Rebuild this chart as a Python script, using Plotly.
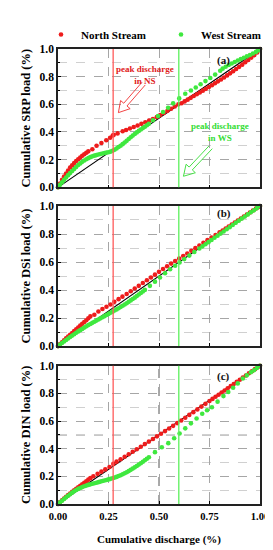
import plotly.graph_objects as go
from plotly.subplots import make_subplots

# ---------------- data ----------------
# Panel (a) SRP
ns_srp_x = [0.00,0.01,0.02,0.03,0.04,0.05,0.06,0.07,0.08,0.09,0.10,0.11,0.12,0.13,0.14,0.15,
            0.17,0.191,0.215,0.239,0.258,0.271,0.276,0.295,0.32,
            0.337,0.356,0.375,0.394,0.413,0.432,0.451,0.47,0.489,0.506,0.524,0.542,0.56,0.578,0.596,
            0.612,0.627,0.642,0.657,0.672,0.687,0.702,0.717,0.732,0.747,0.762,0.777,0.792,0.807,
            0.822,0.837,0.852,0.867,0.882,0.897,0.912,0.927,0.942,0.957,0.972,0.986,1.0]
ns_srp_y = [0.000,0.028,0.054,0.078,0.100,0.122,0.143,0.160,0.175,0.190,0.203,0.216,0.228,0.239,0.250,0.260,
            0.275,0.300,0.320,0.340,0.358,0.375,0.380,0.390,0.405,
            0.414,0.425,0.436,0.447,0.459,0.470,0.482,0.494,0.508,0.522,0.537,0.553,0.568,0.584,0.600,
            0.608,0.621,0.634,0.647,0.660,0.673,0.686,0.699,0.712,0.725,0.738,0.752,0.766,0.780,
            0.794,0.809,0.824,0.839,0.855,0.871,0.887,0.904,0.921,0.938,0.956,0.975,1.000]
ws_srp_x = [0.00,0.01,0.02,0.03,0.04,0.05,0.06,0.07,0.08,0.09,0.10,0.11,0.12,0.13,0.14,0.15,
            0.16,0.17,0.18,0.19,0.20,0.21,0.22,0.23,0.24,0.25,0.26,0.27,0.28,0.29,0.30,
            0.31,0.32,0.33,0.34,0.35,0.36,0.37,0.38,0.39,0.40,0.41,0.42,0.43,0.44,0.45,
            0.47,0.495,0.52,0.545,0.57,0.60,0.63,0.658,0.682,0.706,0.73,0.754,0.778,0.803,
            0.815,0.83,0.845,0.86,0.875,0.89,0.905,0.92,0.935,0.95,0.965,0.98,0.99,1.0]
ws_srp_y = [0.000,0.018,0.036,0.054,0.071,0.088,0.104,0.118,0.132,0.147,0.161,0.173,0.184,0.194,0.203,0.211,
            0.218,0.224,0.229,0.233,0.237,0.241,0.245,0.248,0.251,0.254,0.258,0.264,0.272,0.281,0.291,
            0.301,0.312,0.324,0.336,0.349,0.362,0.374,0.386,0.397,0.408,0.418,0.428,0.438,0.449,0.460,
            0.485,0.515,0.545,0.575,0.607,0.643,0.676,0.700,0.722,0.745,0.768,0.790,0.815,0.843,
            0.858,0.872,0.884,0.895,0.906,0.917,0.927,0.937,0.947,0.957,0.968,0.979,0.989,1.000]

# Panel (b) DSi
ns_dsi_x = [0.00,0.01,0.02,0.03,0.04,0.05,0.06,0.07,0.08,0.09,0.10,0.11,0.12,0.13,0.14,0.15,0.16,
            0.18,0.20,0.22,0.24,0.26,0.279,0.30,0.319,0.34,0.36,0.38,0.40,0.42,0.44,0.46,0.48,
            0.50,0.52,0.54,0.56,0.58,0.60,0.62,0.64,0.66,0.68,0.70,0.72,0.74,0.76,0.78,0.80,
            0.815,0.83,0.845,0.86,0.875,0.89,0.905,0.92,0.935,0.95,0.965,0.98,0.99,1.0]
ns_dsi_y = [0.000,0.014,0.028,0.041,0.055,0.068,0.081,0.094,0.107,0.120,0.133,0.146,0.159,0.172,0.185,0.199,0.212,
            0.224,0.247,0.265,0.281,0.297,0.316,0.335,0.353,0.372,0.392,0.411,0.430,0.450,0.470,0.490,0.510,
            0.530,0.550,0.570,0.589,0.607,0.625,0.643,0.661,0.680,0.699,0.718,0.737,0.756,0.775,0.793,0.812,
            0.825,0.839,0.853,0.867,0.881,0.896,0.910,0.925,0.939,0.953,0.968,0.982,0.991,1.000]
ws_dsi_x = [0.00,0.01,0.02,0.03,0.04,0.05,0.06,0.07,0.08,0.09,0.10,0.11,0.12,0.13,0.14,0.15,
            0.16,0.17,0.18,0.19,0.20,0.21,0.22,0.23,0.24,0.25,0.26,0.27,0.28,0.29,0.30,
            0.31,0.32,0.33,0.34,0.35,0.36,0.37,0.38,0.39,0.40,0.41,0.42,0.43,
            0.455,0.48,0.505,0.53,0.555,0.58,0.602,0.625,0.65,0.675,0.70,
            0.715,0.73,0.745,0.76,0.775,0.79,0.805,0.82,0.835,0.85,0.865,0.88,0.895,0.91,0.925,0.94,0.955,0.97,0.985,1.0]
ws_dsi_y = [0.000,0.011,0.022,0.033,0.044,0.054,0.065,0.075,0.085,0.095,0.105,0.114,0.123,0.132,0.141,0.150,
            0.158,0.166,0.174,0.182,0.190,0.198,0.206,0.214,0.222,0.230,0.238,0.246,0.254,0.262,0.270,
            0.279,0.288,0.297,0.306,0.316,0.326,0.336,0.346,0.357,0.368,0.379,0.390,0.401,
            0.430,0.460,0.490,0.520,0.548,0.574,0.597,0.621,0.646,0.672,0.697,
            0.712,0.727,0.742,0.757,0.773,0.788,0.803,0.818,0.834,0.849,0.864,0.880,0.895,0.910,0.925,0.940,0.955,0.970,0.985,1.000]

# Panel (c) DIN
ns_din_x = [0.00,0.01,0.02,0.03,0.04,0.05,0.06,0.07,0.08,0.09,0.10,0.11,0.12,0.13,0.14,0.15,0.16,
            0.175,0.196,0.215,0.234,0.255,0.274,0.29,0.31,0.33,0.35,0.37,0.39,0.41,0.43,0.45,0.47,
            0.49,0.51,0.53,0.55,0.57,0.59,0.61,0.63,0.65,0.67,0.69,0.71,0.73,0.75,
            0.765,0.78,0.795,0.81,0.825,0.84,0.855,0.87,0.885,0.90,0.915,0.93,0.945,0.96,0.975,0.99,1.0]
ns_din_y = [0.000,0.014,0.027,0.040,0.052,0.064,0.076,0.088,0.099,0.110,0.121,0.132,0.143,0.154,0.165,0.176,0.187,
            0.201,0.218,0.234,0.250,0.268,0.290,0.306,0.324,0.342,0.360,0.378,0.396,0.414,0.433,0.451,0.470,
            0.489,0.508,0.527,0.546,0.565,0.585,0.604,0.624,0.644,0.664,0.684,0.704,0.724,0.745,
            0.760,0.775,0.790,0.806,0.821,0.836,0.852,0.867,0.883,0.898,0.914,0.929,0.945,0.960,0.975,0.990,1.000]
ws_din_x = [0.00,0.01,0.02,0.03,0.04,0.05,0.06,0.07,0.08,0.09,0.10,0.11,0.12,0.13,0.14,0.15,
            0.16,0.17,0.18,0.19,0.20,0.21,0.22,0.23,0.24,0.25,0.26,0.27,0.28,0.29,0.30,
            0.31,0.32,0.33,0.34,0.35,0.36,0.37,0.38,0.39,0.40,0.41,0.42,0.43,0.44,0.45,
            0.48,0.514,0.546,0.575,0.602,0.63,0.658,0.686,0.714,0.738,0.762,0.79,0.819,0.843,0.867,0.89,
            0.915,0.935,0.955,0.97,0.985,1.0]
ws_din_y = [0.000,0.012,0.024,0.036,0.048,0.060,0.071,0.082,0.092,0.101,0.109,0.116,0.122,0.128,0.133,0.138,
            0.142,0.146,0.150,0.154,0.158,0.162,0.166,0.170,0.174,0.178,0.182,0.186,0.191,0.196,0.202,
            0.208,0.215,0.222,0.230,0.238,0.247,0.256,0.265,0.275,0.285,0.295,0.305,0.316,0.327,0.338,
            0.375,0.410,0.440,0.475,0.510,0.547,0.583,0.618,0.653,0.678,0.700,0.740,0.780,0.810,0.840,0.872,
            0.907,0.930,0.952,0.967,0.983,1.000]

equal_line = [0, 1]          # 1:1 reference line
peak_ns = 0.273              # cumulative discharge at peak discharge, North Stream
peak_ws = 0.598              # cumulative discharge at peak discharge, West Stream
x_ticks = [0.00, 0.25, 0.50, 0.75, 1.00]
x_tick_labels = ["0.00", "0.25", "0.50", "0.75", "1.00"]
y_titles = ["Cumulative SRP load (%)", "Cumulative DSi load (%)", "Cumulative DIN load (%)"]
panel_labels = ["(a)", "(b)", "(c)"]

# ---------------- figure ----------------
SERIF = "Liberation Serif"
RED = "#ee1c1c"
GREEN = "#3fe83f"
RED_LINE = "#ff5a5a"
GREEN_LINE = "#5cf05c"

fig = make_subplots(rows=3, cols=1)
domains = [[0.696, 1.0], [0.347, 0.655], [0.0, 0.304]]
series = [(ns_srp_x, ns_srp_y, ws_srp_x, ws_srp_y),
          (ns_dsi_x, ns_dsi_y, ws_dsi_x, ws_dsi_y),
          (ns_din_x, ns_din_y, ws_din_x, ws_din_y)]

for i, (nx, ny, wx, wy) in enumerate(series):
    r = i + 1
    fig.add_trace(go.Scatter(x=equal_line, y=equal_line, mode="lines",
                             line=dict(color="black", width=1.1), showlegend=False,
                             hoverinfo="skip"), row=r, col=1)
    fig.add_trace(go.Scatter(x=nx, y=ny, mode="markers", name="North Stream",
                             marker=dict(color=RED, size=4.6), showlegend=(i == 0),
                             cliponaxis=False), row=r, col=1)
    fig.add_trace(go.Scatter(x=wx, y=wy, mode="markers", name="West Stream",
                             marker=dict(color=GREEN, size=4.6), showlegend=(i == 0),
                             cliponaxis=False), row=r, col=1)

axis_font = dict(family=SERIF, size=11.5, color="black", weight="bold")
for i in range(3):
    r = i + 1
    fig.update_yaxes(row=r, col=1, domain=domains[i], range=[0, 1], dtick=0.2, tick0=0,
                     tickformat=".1f", tickfont=axis_font,
                     showgrid=True, gridcolor="#a6a6a6", griddash="dash", gridwidth=1,
                     minor=dict(dtick=0.1, showgrid=True, gridcolor="#d0d0d0", griddash="dash",
                                ticks="inside", ticklen=2, tickcolor="black"),
                     ticks="inside", ticklen=3, tickcolor="black",
                     showline=True, linecolor="#222", linewidth=1.5, mirror=True,
                     zeroline=False,
                     title=dict(text=y_titles[i], standoff=6,
                                font=dict(family=SERIF, size=12.5, color="black", weight="bold")))
    fig.update_xaxes(row=r, col=1, range=[0, 1], tickvals=x_ticks, ticktext=x_tick_labels,
                     tickfont=dict(family=SERIF, size=10.5, color="black", weight="bold"),
                     showticklabels=(i == 2),
                     showgrid=True, gridcolor="#a6a6a6", griddash="dash", gridwidth=1,
                     ticks="inside", ticklen=3, tickcolor="black",
                     showline=True, linecolor="#222", linewidth=1.5, mirror=True,
                     zeroline=False)

fig.update_xaxes(row=3, col=1, ticklabelstandoff=2,
                 title=dict(text="Cumulative discharge (%)", standoff=14,
                            font=dict(family=SERIF, size=11, color="black", weight="bold")))

# peak discharge vertical lines and panel labels
for i in range(3):
    xr = "x" if i == 0 else f"x{i+1}"
    yr = "y" if i == 0 else f"y{i+1}"
    fig.add_shape(type="line", xref=xr, yref=f"{yr} domain", x0=peak_ns, x1=peak_ns, y0=0, y1=1,
                  line=dict(color=RED_LINE, width=1.3))
    fig.add_shape(type="line", xref=xr, yref=f"{yr} domain", x0=peak_ws, x1=peak_ws, y0=0, y1=1,
                  line=dict(color=GREEN_LINE, width=1.3))
    label_y = 0.945 if i == 1 else 0.92
    fig.add_annotation(xref=xr, yref=yr, x=0.82, y=label_y, text=panel_labels[i],
                       showarrow=False,
                       font=dict(family=SERIF, size=11, color="#111", weight="bold"))

# darker dashed half-way lines in panel (c)
fig.add_shape(type="line", xref="x3", yref="y3 domain", x0=0.5, x1=0.5, y0=0, y1=1,
              line=dict(color="#555", width=1, dash="dash"), layer="below")
fig.add_shape(type="line", xref="x3 domain", yref="y3", x0=0, x1=1, y0=0.5, y1=0.5,
              line=dict(color="#555", width=1, dash="dash"), layer="below")

# text callouts in panel (a)
fig.add_annotation(xref="x", yref="y", x=0.43, y=0.815, showarrow=False,
                   text="peak discharge<br>in NS", align="center",
                   font=dict(family=SERIF, size=9, color="#e02020", weight="bold"))
fig.add_annotation(xref="x", yref="y", x=0.80, y=0.40, showarrow=False,
                   text="peak discharge<br>in WS", align="center",
                   font=dict(family=SERIF, size=9, color="#33dd33", weight="bold"))

# hollow arrows (panel (a) pixel scale)
PX_X, PX_Y = 207.7, 144.0
def hollow_arrow(tail, head, color):
    import math
    tx, ty = tail[0] * PX_X, -tail[1] * PX_Y
    hx, hy = head[0] * PX_X, -head[1] * PX_Y
    dx, dy = hx - tx, hy - ty
    L = math.hypot(dx, dy)
    ux, uy = dx / L, dy / L
    nx, ny = -uy, ux
    w, hw, hl = 2.2, 6.5, 11.0
    bx, by = hx - ux * hl, hy - uy * hl
    pts = [(tx + nx * w, ty + ny * w), (bx + nx * w, by + ny * w), (bx + nx * hw, by + ny * hw),
           (hx, hy), (bx - nx * hw, by - ny * hw), (bx - nx * w, by - ny * w), (tx - nx * w, ty - ny * w)]
    path = "M " + " L ".join(f"{px / PX_X:.4f},{-py / PX_Y:.4f}" for px, py in pts)
    fig.add_shape(type="path", xref="x", yref="y", path=path,
                  line=dict(color=color, width=0.9))

hollow_arrow((0.424, 0.75), (0.299, 0.54), "#f03030")
hollow_arrow((0.756, 0.29), (0.621, 0.08), "#33dd33")

fig.update_layout(
    width=273, height=550,
    margin=dict(l=50, r=15, t=22, b=54),
    paper_bgcolor="white", plot_bgcolor="white",
    showlegend=True,
    legend=dict(orientation="h", x=-0.075, xanchor="left", y=1.0, yanchor="bottom",
                font=dict(family=SERIF, size=11, color="black", weight="bold"),
                entrywidth=75, entrywidthmode="pixels", bgcolor="rgba(0,0,0,0)",
                itemclick=False, tracegroupgap=0),
    font=dict(family=SERIF, color="black"),
)

fig.write_html("out.html")
